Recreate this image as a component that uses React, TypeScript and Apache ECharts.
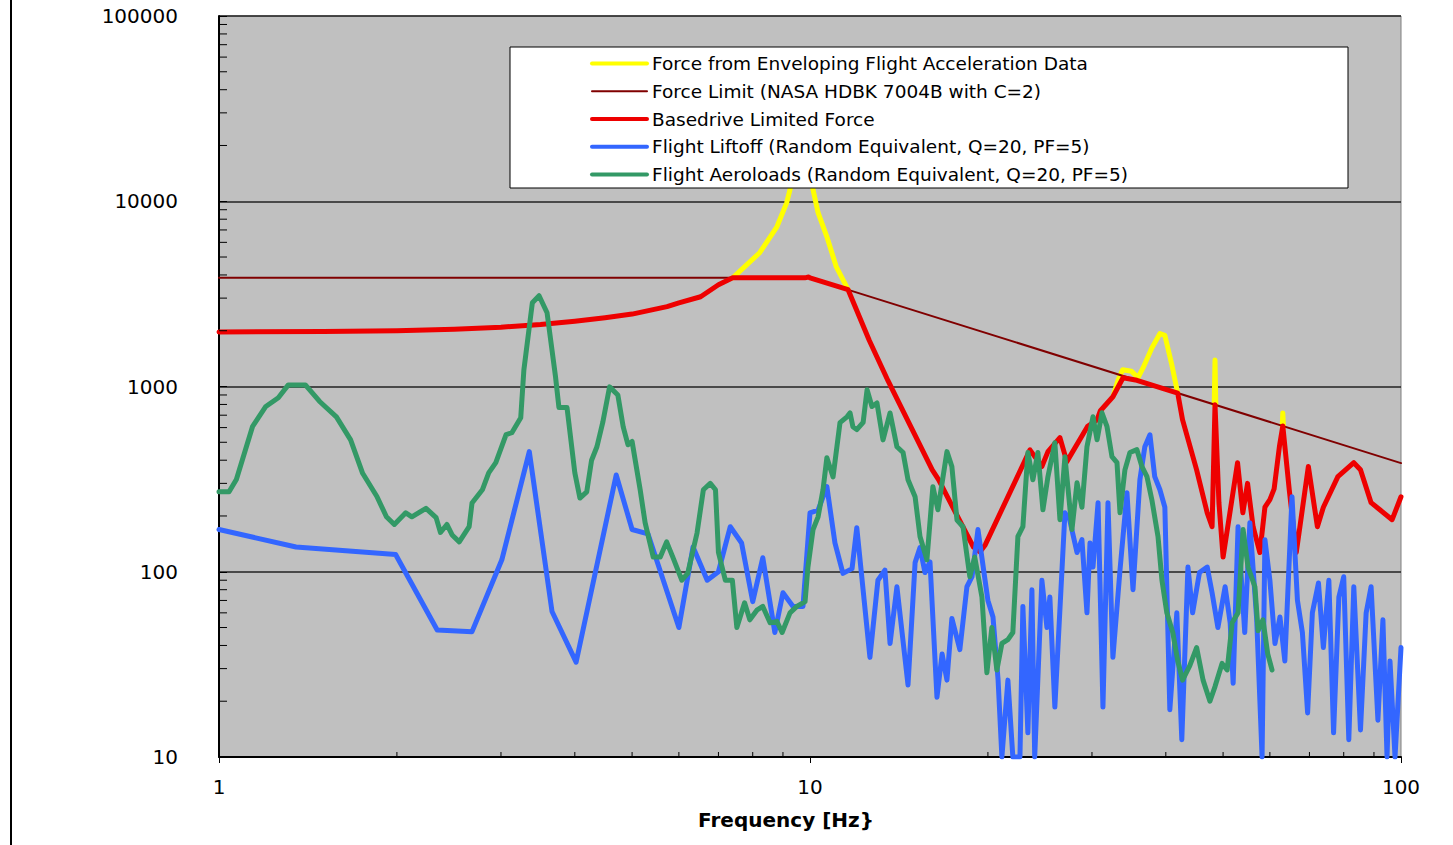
import React, { useEffect, useRef } from "react";
import * as echarts from "echarts";

const FONT = "DejaVu Sans";

const xTickLabels = [1, 10, 100];
const yTickLabels = [10, 100, 1000, 10000, 100000];
const xMinorTicks = [2, 3, 4, 5, 6, 7, 8, 9, 20, 30, 40, 50, 60, 70, 80, 90];
const yMinorTicks = [
  20, 30, 40, 50, 60, 70, 80, 90,
  200, 300, 400, 500, 600, 700, 800, 900,
  2000, 3000, 4000, 5000, 6000, 7000, 8000, 9000,
  20000, 30000, 40000, 50000, 60000, 70000, 80000, 90000,
];

const seriesNames = [
  "Force from Enveloping Flight Acceleration Data",
  "Force Limit (NASA HDBK 7004B with C=2)",
  "Basedrive Limited Force",
  "Flight Liftoff (Random Equivalent, Q=20, PF=5)",
  "Flight Aeroloads (Random Equivalent, Q=20, PF=5)",
];

// Yellow: only the parts that rise above the red curve are visible
const envelopeResonance = [
  [7.4, 3860], [7.82, 4550], [8.22, 5275], [8.79, 7280], [9.13, 9800], [9.25, 11540],
  [9.5, 20000], [9.68, 45000], [9.9, 20000], [10.12, 11540], [10.32, 8670],
  [10.68, 6430], [11.08, 4420], [11.6, 3330],
];
const envelopeHump = [
  [32.55, 880], [33.2, 1080], [33.8, 1230], [35.0, 1210], [35.9, 1115], [36.6, 1260],
  [37.9, 1620], [39.1, 1930], [39.85, 1890], [40.9, 1330], [41.9, 920],
];
const envelopeSpike48 = [[48.3, 797], [48.45, 1390], [48.6, 790]];
const envelopeSpike63 = [[62.95, 612], [63.1, 720], [63.25, 605]];

const forceLimit = [[1, 3860], [10, 3860], [100, 386]];

const basedrive = [
  [1, 1970], [1.5, 1980], [2, 2000], [2.5, 2040], [3, 2090], [3.5, 2160], [4, 2250],
  [4.5, 2350], [5, 2460], [5.73, 2700], [6.0, 2830], [6.53, 3050], [7.0, 3540], [7.4, 3860],
  [9.8, 3860], [9.95, 3900], [10.0, 3860], [11.6, 3330], [12.6, 1770], [13.55, 1075],
  [16.1, 355], [16.5, 314], [18.9, 136], [19.4, 128], [19.8, 140], [23.56, 455],
  [24.68, 370], [25.27, 445], [26.48, 530], [27.2, 393], [29.5, 610], [30.6, 660],
  [31.0, 740], [32.55, 880], [33.86, 1115], [35.74, 1080], [41.9, 920], [42.7, 660],
  [45.1, 355], [47.0, 208], [47.9, 175], [48.45, 797], [49.2, 235], [50.0, 120],
  [52.9, 388], [54.0, 208], [55.0, 300], [56.2, 175], [57.7, 127], [58.85, 223],
  [60.0, 245], [61.0, 280], [62.3, 480], [63.1, 612], [64.7, 277], [66.5, 127],
  [69.7, 370], [72.2, 175], [73.9, 223], [78.2, 326], [83.2, 388], [85.4, 355],
  [89.0, 236], [92.1, 216], [96.6, 191], [100, 254],
];

const liftoff = [
  [1.0, 169], [1.35, 136], [1.99, 124], [2.34, 48.5], [2.68, 47.5], [3.01, 116],
  [3.35, 445], [3.66, 61], [4.02, 32.5], [4.7, 333], [5.0, 169], [5.32, 160], [6.0, 50],
  [6.34, 136], [6.7, 90], [7.0, 100], [7.33, 175], [7.66, 143], [8.0, 69], [8.32, 119],
  [8.72, 47], [9.0, 77], [9.36, 65], [9.73, 65], [10.0, 208], [10.32, 215], [10.68, 288],
  [11.02, 143], [11.37, 98], [11.78, 104], [12.0, 173], [12.63, 34.5], [13.03, 90],
  [13.39, 102], [13.66, 41], [14.03, 83], [14.65, 24.5], [15.06, 112], [15.35, 135],
  [15.65, 99], [15.96, 113], [16.4, 21], [16.73, 36], [17.05, 26], [17.38, 56],
  [17.93, 38], [18.43, 83], [18.8, 94], [19.24, 169], [20.0, 70], [20.4, 57], [20.81, 26],
  [21.12, 10], [21.62, 26], [22.04, 10], [22.66, 10], [22.92, 65], [23.37, 13.5],
  [23.74, 80], [24.0, 10], [24.68, 90], [25.17, 50], [25.46, 73], [25.96, 18.6],
  [27.0, 208], [27.5, 191], [28.3, 127], [28.85, 149], [29.42, 60], [29.77, 143],
  [30.12, 106], [30.72, 236], [31.31, 18.6], [31.93, 236], [32.55, 34.5], [33.46, 102],
  [34.38, 267], [35.2, 80], [36.16, 314], [36.86, 473], [37.6, 549], [38.31, 326],
  [39.09, 277], [39.85, 223], [40.63, 18], [41.75, 60], [42.57, 12.4], [43.6, 106],
  [44.4, 60], [45.6, 99], [47.0, 106], [47.9, 77], [49.0, 50], [50.4, 83], [51.4, 53],
  [52.0, 25], [53.0, 175], [54.4, 47], [55.5, 184], [57.0, 55], [58.2, 10], [58.85, 149],
  [60.0, 90], [61.2, 41], [62.4, 57], [63.6, 33], [65.4, 254], [66.8, 70], [68.1, 47],
  [69.5, 17.3], [70.8, 60], [72.5, 87], [73.9, 39], [75.5, 90], [76.9, 13.5], [78.5, 73],
  [80.0, 94], [81.6, 12.4], [83.2, 83], [85.4, 14], [87.3, 60], [89.0, 83], [91.4, 15.8],
  [93.2, 55], [94.7, 10], [95.8, 33], [97.7, 10], [100, 39],
];

const aeroloads = [
  [1.0, 270], [1.04, 270], [1.07, 315], [1.14, 610], [1.2, 780], [1.26, 870], [1.31, 1020],
  [1.4, 1020], [1.48, 830], [1.58, 685], [1.67, 515], [1.75, 340], [1.85, 255], [1.92, 198],
  [1.98, 180], [2.07, 208], [2.12, 198], [2.24, 220], [2.33, 196], [2.37, 163], [2.43, 180],
  [2.48, 158], [2.55, 145], [2.65, 175], [2.68, 235], [2.79, 277], [2.86, 342], [2.94, 388],
  [3.06, 550], [3.13, 563], [3.24, 678], [3.28, 1230], [3.39, 2830], [3.48, 3090],
  [3.59, 2500], [3.71, 1130], [3.76, 770], [3.88, 770], [4.0, 342], [4.08, 250], [4.19, 270],
  [4.27, 400], [4.36, 473], [4.46, 640], [4.58, 995], [4.73, 900], [4.83, 605], [4.92, 485],
  [5.0, 505], [5.16, 277], [5.26, 184], [5.43, 120], [5.58, 120], [5.72, 145], [5.86, 120],
  [6.07, 90], [6.21, 98], [6.44, 162], [6.6, 277], [6.78, 300], [6.92, 277], [7.0, 127],
  [7.19, 90], [7.39, 90], [7.52, 50], [7.75, 68], [7.91, 55], [8.13, 62], [8.32, 65],
  [8.56, 53], [8.79, 54], [8.97, 47], [9.25, 60], [9.5, 65], [9.81, 69], [9.92, 106],
  [10.12, 169], [10.32, 198], [10.52, 277], [10.68, 413], [10.94, 325], [11.24, 638],
  [11.55, 686], [11.69, 720], [11.82, 607], [12.0, 585], [12.3, 640], [12.49, 960],
  [12.73, 780], [12.98, 815], [13.29, 515], [13.66, 720], [14.03, 473], [14.37, 440],
  [14.65, 314], [15.06, 254], [15.35, 155], [15.77, 116], [16.14, 288], [16.46, 216],
  [17.05, 445], [17.38, 370], [17.73, 190], [18.15, 175], [18.64, 94], [19.0, 120],
  [19.54, 73], [19.92, 28.5], [20.31, 50], [20.71, 29.5], [21.12, 41], [21.62, 43],
  [22.04, 47], [22.48, 155], [22.92, 175], [23.37, 440], [23.83, 314], [24.3, 440],
  [24.78, 216], [25.27, 326], [25.96, 497], [26.48, 191], [27.0, 418], [27.75, 169],
  [28.3, 302], [28.85, 223], [29.42, 473], [30.12, 686], [30.6, 516], [31.19, 721],
  [31.8, 610], [32.43, 418], [33.07, 388], [33.46, 208], [34.11, 355], [34.78, 440],
  [35.74, 456], [36.45, 369], [37.17, 326], [37.88, 245], [38.8, 155], [39.4, 90],
  [40.16, 60], [41.1, 47], [41.9, 33], [42.7, 26], [43.9, 31], [45.1, 39], [46.25, 26],
  [47.5, 20], [48.45, 24], [49.8, 32], [50.8, 29.5], [51.8, 53], [53.0, 60], [54.05, 169],
  [55.1, 106], [56.6, 83], [57.3, 48], [58.4, 55], [59.5, 36], [60.5, 29.5],
];

const YELLOW = "#FFFF00";
const BROWN = "#800000";
const RED = "#EE0000";
const BLUE = "#3366FF";
const GREEN = "#339966";

const seriesWidths = [5, 2, 5, 5, 5];

function lineSeries(name: string, data: number[][], color: string, width: number) {
  return {
    type: "line",
    name,
    data,
    symbol: "none",
    showSymbol: false,
    silent: true,
    lineStyle: { color, width, join: "round", cap: "round" },
    itemStyle: { color },
    emphasis: { disabled: true },
  };
}

function tickSeries(data: number[][], dx: number, dy: number) {
  return {
    type: "custom",
    silent: true,
    clip: false,
    z: 6,
    data,
    renderItem: (_p: any, api: any) => {
      const pt = api.coord([api.value(0), api.value(1)]);
      return {
        type: "line",
        shape: { x1: pt[0], y1: pt[1], x2: pt[0] + dx, y2: pt[1] + dy },
        style: { stroke: "#000", lineWidth: 1 },
      };
    },
  };
}

const labelFmt = (v: number) => String(Math.round(v));

export default function App() {
  const ref = useRef<HTMLDivElement>(null);
  useEffect(() => {
    const chart = echarts.init(ref.current!, null, { renderer: "svg" });
    chart.setOption({
      animation: false,
      backgroundColor: "#ffffff",
      grid: {
        left: 219,
        right: 52,
        top: 16,
        bottom: 88,
        show: true,
        backgroundColor: "#C0C0C0",
        borderColor: "#808080",
        borderWidth: 1,
      },
      xAxis: {
        type: "log",
        logBase: 10,
        min: xTickLabels[0],
        max: xTickLabels[xTickLabels.length - 1],
        axisLine: { show: true, lineStyle: { color: "#000", width: 2 } },
        axisTick: { show: true, inside: false, length: 6, lineStyle: { color: "#000", width: 1 } },
        axisLabel: { formatter: labelFmt, fontSize: 20, fontFamily: FONT, color: "#000", margin: 20 },
        splitLine: { show: false },
        minorTick: { show: false },
      },
      yAxis: {
        type: "log",
        logBase: 10,
        min: yTickLabels[0],
        max: yTickLabels[yTickLabels.length - 1],
        axisLine: { show: true, lineStyle: { color: "#000", width: 2 } },
        axisTick: { show: true, inside: true, length: 8, lineStyle: { color: "#000", width: 1 } },
        axisLabel: { formatter: labelFmt, fontSize: 20, fontFamily: FONT, color: "#000", margin: 41 },
        splitLine: { show: true, lineStyle: { color: "#222", width: 1.5 } },
      },
      legend: {
        data: seriesNames.map((name, i) => ({
          name,
          lineStyle: { width: seriesWidths[i] === 2 ? 2 : 4 },
        })),
        orient: "vertical",
        left: 590,
        top: 54,
        padding: 0,
        z: 200,
        itemWidth: 55,
        itemHeight: 18,
        itemGap: 8.75,
        selectedMode: false,
        itemStyle: { opacity: 0, borderWidth: 0 },
        textStyle: { fontSize: 18.5, fontFamily: FONT, color: "#000" },
      },
      graphic: [
        {
          type: "rect",
          z: 100,
          shape: { x: 510, y: 47, width: 838, height: 141 },
          style: { fill: "#ffffff", stroke: "#000", lineWidth: 1 },
          silent: true,
        },
        {
          type: "line",
          shape: { x1: 11, y1: 0, x2: 11, y2: 845 },
          style: { stroke: "#000", lineWidth: 2 },
          silent: true,
        },
        {
          type: "text",
          x: 786,
          y: 820,
          style: {
            text: "Frequency [Hz}",
            fill: "#000",
            font: `bold 20px "${FONT}"`,
            textAlign: "center",
            textVerticalAlign: "middle",
          },
          silent: true,
        },
      ],
      series: [
        lineSeries(seriesNames[0], envelopeResonance, YELLOW, seriesWidths[0]),
        lineSeries(seriesNames[0], envelopeHump, YELLOW, seriesWidths[0]),
        lineSeries(seriesNames[0], envelopeSpike48, YELLOW, seriesWidths[0]),
        lineSeries(seriesNames[0], envelopeSpike63, YELLOW, seriesWidths[0]),
        lineSeries(seriesNames[1], forceLimit, BROWN, seriesWidths[1]),
        lineSeries(seriesNames[2], basedrive, RED, seriesWidths[2]),
        lineSeries(seriesNames[3], liftoff, BLUE, seriesWidths[3]),
        lineSeries(seriesNames[4], aeroloads, GREEN, seriesWidths[4]),
        tickSeries(xMinorTicks.map((v) => [v, yTickLabels[0]]), 0, -5),
        tickSeries(yMinorTicks.map((v) => [xTickLabels[0], v]), 8, 0),
      ],
    });
    return () => chart.dispose();
  }, []);
  return (
    <div
      ref={ref}
      style={{ position: "fixed", left: 0, top: 0, width: 1453, height: 845, background: "#fff" }}
    />
  );
}
